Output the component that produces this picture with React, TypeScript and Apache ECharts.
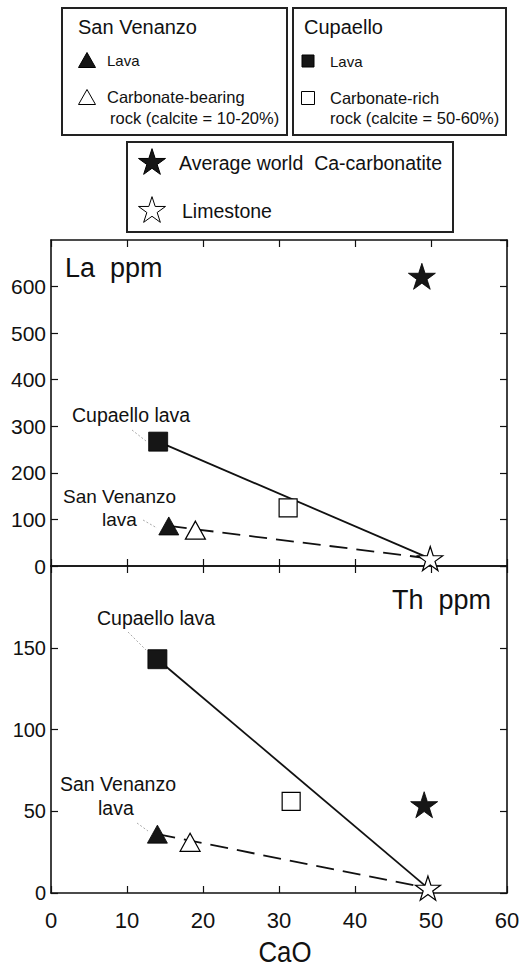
import React, { useEffect, useRef } from "react";
import * as echarts from "echarts";

// ---------- data ----------
const caoRange = [0, 60];
const caoStep = 10;
const laRange = [0, 700];
const laStep = 100;
const thRange = [0, 200];
const thStep = 50;
const xAxisName = "CaO";

// [CaO, La ppm]
const laCupaelloLava = [14.1, 267];
const laCupaelloCarb = [31.2, 125];
const laSanVenanzoLava = [15.5, 86];
const laSanVenanzoCarb = [19.0, 77];
const laCarbonatite = [48.8, 622];
const laLimestone = [49.9, 16];

// [CaO, Th ppm]
const thCupaelloLava = [14.0, 143];
const thCupaelloCarb = [31.6, 56];
const thSanVenanzoLava = [14.0, 36];
const thSanVenanzoCarb = [18.3, 31];
const thCarbonatite = [49.1, 54];
const thLimestone = [49.6, 3];

// ---------- styles ----------
const FONT = "'Liberation Sans', Arial, sans-serif";
const INK = "#111";
const DARK = "#161616";
const STAR_PATH =
  "path://M50 0L61.23 34.55L97.55 34.55L68.17 55.9L79.39 90.45L50 69.1L20.61 90.45L31.83 55.9L2.45 34.55L38.77 34.55Z";
const STAR_BASE = [
  [50, 0], [61.23, 34.55], [97.55, 34.55], [68.17, 55.9], [79.39, 90.45],
  [50, 69.1], [20.61, 90.45], [31.83, 55.9], [2.45, 34.55], [38.77, 34.55],
];

function starPoly(cx: number, cy: number, size: number) {
  const s = size / 95;
  return STAR_BASE.map(([px, py]) => [cx + (px - 50) * s, cy + (py - 47) * s]);
}

const filled = { color: DARK, borderColor: "#000", borderWidth: 0.8, opacity: 1 };
const open = { color: "#fff", borderColor: "#000", borderWidth: 1.2, opacity: 1 };

function panelSeries(
  xi: number,
  yi: number,
  d: {
    cupLava: number[];
    cupCarb: number[];
    svLava: number[];
    svCarb: number[];
    carb: number[];
    lime: number[];
  }
) {
  const base = { xAxisIndex: xi, yAxisIndex: yi, silent: true };
  return [
    {
      ...base,
      type: "line",
      data: [d.cupLava, d.lime],
      showSymbol: false,
      lineStyle: { color: INK, width: 1.8 },
      z: 2,
    },
    {
      ...base,
      type: "line",
      data: [d.svLava, d.lime],
      showSymbol: false,
      lineStyle: { color: INK, width: 1.8, type: [18, 9] },
      z: 2,
    },
    { ...base, type: "scatter", data: [d.cupLava], symbol: "rect", symbolSize: 19, itemStyle: filled, z: 4 },
    { ...base, type: "scatter", data: [d.cupCarb], symbol: "rect", symbolSize: 18, itemStyle: open, z: 4 },
    { ...base, type: "scatter", data: [d.svLava], symbol: "triangle", symbolSize: [20, 18], itemStyle: filled, z: 4 },
    { ...base, type: "scatter", data: [d.svCarb], symbol: "triangle", symbolSize: [20, 18], itemStyle: open, z: 4 },
    { ...base, type: "scatter", data: [d.carb], symbol: STAR_PATH, symbolSize: [27, 26], itemStyle: filled, z: 4 },
    { ...base, type: "scatter", data: [d.lime], symbol: STAR_PATH, symbolSize: [25, 24], itemStyle: open, z: 4 },
  ];
}

function xAx(gridIndex: number, position: string, labels: boolean) {
  return {
    type: "value",
    gridIndex,
    position,
    min: caoRange[0],
    max: caoRange[1],
    interval: caoStep,
    axisLine: { show: true, onZero: false, lineStyle: { color: INK, width: 1.6 } },
    axisTick: { show: true, inside: true, length: 7, lineStyle: { color: INK, width: 1.2 } },
    axisLabel: {
      show: labels,
      color: INK,
      fontFamily: FONT,
      fontSize: 22,
      margin: 16,
    },
    splitLine: { show: false },
  };
}

function yAx(gridIndex: number, position: string, labels: boolean, range: number[], step: number, fs: number) {
  return {
    type: "value",
    gridIndex,
    position,
    min: range[0],
    max: range[1],
    interval: step,
    axisLine: { show: true, onZero: false, lineStyle: { color: INK, width: 1.6 } },
    axisTick: { show: true, inside: true, length: 7, lineStyle: { color: INK, width: 1.2 } },
    axisLabel: {
      show: labels,
      showMaxLabel: false,
      color: INK,
      fontFamily: FONT,
      fontSize: fs,
      margin: 5,
    },
    splitLine: { show: false },
  };
}

function txt(x: number, y: number, text: string, size: number, align = "left", scaleX = 1) {
  return {
    type: "text",
    x,
    y,
    scaleX,
    silent: true,
    style: {
      text,
      fill: INK,
      fontSize: size,
      fontFamily: FONT,
      align,
      verticalAlign: "middle",
      textAlign: align,
      textVerticalAlign: "middle",
    },
    z: 10,
  };
}

function box(x: number, y: number, w: number, h: number) {
  return {
    type: "rect",
    silent: true,
    shape: { x, y, width: w, height: h },
    style: { fill: "#fff", stroke: "#222", lineWidth: 2 },
    z: 5,
  };
}

function tri(cx: number, cy: number, w: number, h: number, fill: boolean) {
  return {
    type: "polygon",
    silent: true,
    shape: { points: [[cx, cy - h / 2], [cx + w / 2, cy + h / 2], [cx - w / 2, cy + h / 2]] },
    style: { fill: fill ? DARK : "#fff", stroke: "#000", lineWidth: 1 },
    z: 10,
  };
}

function sq(cx: number, cy: number, s: number, fill: boolean) {
  return {
    type: "rect",
    silent: true,
    shape: { x: cx - s / 2, y: cy - s / 2, width: s, height: s },
    style: { fill: fill ? DARK : "#fff", stroke: "#000", lineWidth: 1 },
    z: 10,
  };
}

function star(cx: number, cy: number, s: number, fill: boolean) {
  return {
    type: "polygon",
    silent: true,
    shape: { points: starPoly(cx, cy, s) },
    style: { fill: fill ? DARK : "#fff", stroke: "#000", lineWidth: 1 },
    z: 10,
  };
}

function leader(x1: number, y1: number, x2: number, y2: number) {
  return {
    type: "line",
    silent: true,
    shape: { x1, y1, x2, y2 },
    style: { stroke: "#aaa", lineWidth: 1, lineDash: [2, 2] },
    z: 10,
  };
}

export default function App() {
  const ref = useRef<HTMLDivElement>(null);
  useEffect(() => {
    if (!ref.current) return;
    const chart = echarts.init(ref.current, undefined, { renderer: "svg" });
    const option = {
      animation: false,
      backgroundColor: "#fff",
      grid: [
        { left: 51, top: 240, width: 456, height: 326 },
        { left: 51, top: 566, width: 456, height: 327 },
      ],
      xAxis: [xAx(0, "bottom", false), xAx(0, "top", false), xAx(1, "bottom", true), xAx(1, "top", false)],
      yAxis: [
        yAx(0, "left", true, laRange, laStep, 21),
        yAx(0, "right", false, laRange, laStep, 21),
        yAx(1, "left", true, thRange, thStep, 20),
        yAx(1, "right", false, thRange, thStep, 20),
      ],
      series: [
        ...panelSeries(0, 0, {
          cupLava: laCupaelloLava,
          cupCarb: laCupaelloCarb,
          svLava: laSanVenanzoLava,
          svCarb: laSanVenanzoCarb,
          carb: laCarbonatite,
          lime: laLimestone,
        }),
        ...panelSeries(2, 2, {
          cupLava: thCupaelloLava,
          cupCarb: thCupaelloCarb,
          svLava: thSanVenanzoLava,
          svCarb: thSanVenanzoCarb,
          carb: thCarbonatite,
          lime: thLimestone,
        }),
      ],
      graphic: [
        // legend boxes
        box(62, 8, 225, 127),
        txt(78, 27, "San Venanzo", 20),
        tri(87, 60, 17, 15, true),
        txt(107, 60, "Lava", 15),
        tri(87, 97, 17, 15, false),
        txt(107, 97, "Carbonate-bearing", 16.5),
        txt(110, 118, "rock (calcite = 10-20%)", 16.5),

        box(293, 8, 213, 127),
        txt(304, 27, "Cupaello", 20),
        sq(308, 61, 12, true),
        txt(330, 61, "Lava", 15),
        sq(308, 98, 13, false),
        txt(330, 98, "Carbonate-rich", 16.5),
        txt(330, 118, "rock (calcite = 50-60%)", 16.5),

        box(127, 142, 326, 90),
        star(152, 162, 27, true),
        txt(179, 163, "Average world  Ca-carbonatite", 19.5),
        star(152, 210, 27, false),
        txt(182, 211, "Limestone", 19.5),

        // panel titles
        txt(65, 268, "La  ppm", 27),
        txt(392, 600, "Th  ppm", 27),

        // annotations top
        txt(72, 415, "Cupaello lava", 19.5),
        leader(132, 430, 146, 441),
        txt(63, 496, "San Venanzo", 19),
        txt(102, 519, "lava", 19),
        leader(143, 520, 157, 528),

        // annotations bottom
        txt(97, 618, "Cupaello lava", 19.5),
        leader(128, 632, 146, 650),
        txt(60, 784, "San Venanzo", 19.5),
        txt(98, 808, "lava", 19.5),
        leader(137, 823, 148, 831),

        // x axis name
        txt(285, 952, xAxisName, 30, "center", 0.86),
      ],
    };
    chart.setOption(option as any);
    return () => chart.dispose();
  }, []);
  return (
    <div
      ref={ref}
      style={{ position: "absolute", left: 0, top: 0, width: 524, height: 972, background: "#fff" }}
    />
  );
}
